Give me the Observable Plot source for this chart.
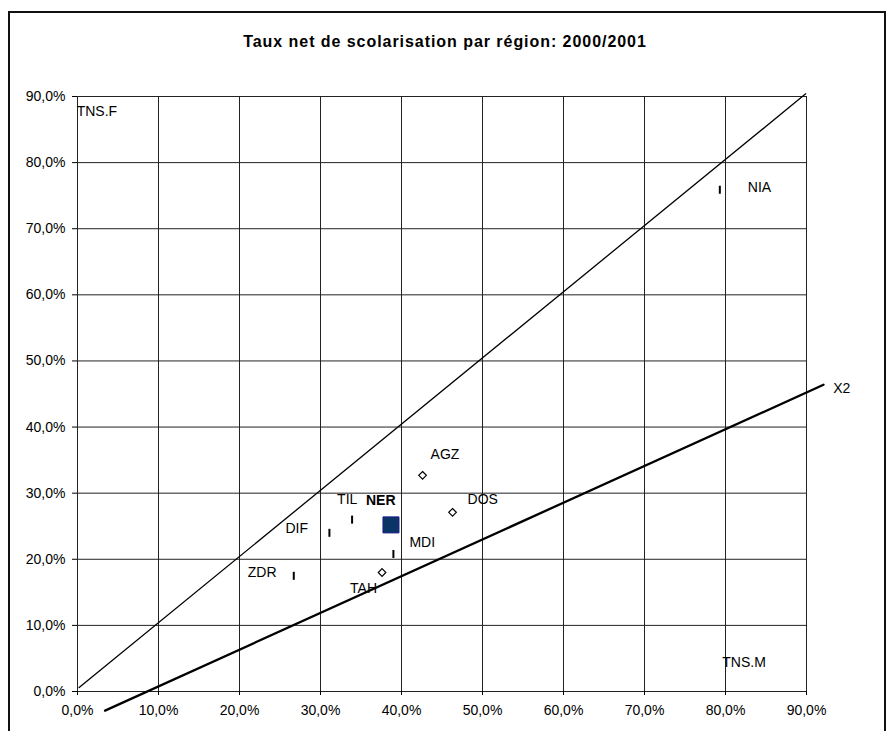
<!DOCTYPE html>
<html>
<head>
<meta charset="utf-8">
<script src="https://cdn.jsdelivr.net/npm/d3@7"></script>
<script src="https://cdn.jsdelivr.net/npm/@observablehq/plot@0.6"></script>
<style>
  html, body { margin: 0; padding: 0; background: #fff; }
  #wrap { position: relative; width: 888px; height: 731px; overflow: hidden; }
  #border { position: absolute; left: 8px; top: 11px; width: 874px; height: 740px; border: 2px solid #111; pointer-events: none; }
  svg { font-family: "Liberation Sans", Arial, sans-serif; }
</style>
</head>
<body>
<div id="wrap"><div id="chart"></div><div id="border"></div></div>
<script>
const title = "Taux net de scolarisation par région: 2000/2001";
const regions = ["NIA", "AGZ", "DOS", "NER", "TIL", "DIF", "MDI", "TAH", "ZDR"];
const tnsM = [0.793, 0.426, 0.463, 0.387, 0.339, 0.311, 0.390, 0.376, 0.267];
const tnsF = [0.759, 0.327, 0.271, 0.252, 0.260, 0.240, 0.208, 0.180, 0.175];
const markerType = ["bar", "diamond", "diamond", "square", "bar", "bar", "bar", "diamond", "bar"];
const tickValues = [0, 0.1, 0.2, 0.3, 0.4, 0.5, 0.6, 0.7, 0.8, 0.9];
// reference lines (endpoints)
const diagX = [0.002, 0.899];
const diagY = [0.006, 0.904];
const x2X = [0.034, 0.921];
const x2Y = [-0.029, 0.464];
// annotations
const annoText = ["TNS.F", "TNS.M", "X2"];
const annoX = [-0.001, 0.796, 0.933];
const annoY = [0.877, 0.0435, 0.459];

// label layout offsets (pixels), same order as regions
const labelDx = [28, 8, 15, -25, -15, -44, 16, -32, -46];
const labelDy = [-2, -21, -13, -24, -20, -4, -11, 16, -3];

const fr = d3.formatLocale({decimal: ",", thousands: " ", grouping: [3], currency: ["", "€"], percent: "%"});
const pct = fr.format(".1%");

const pts = regions.map((r, i) => ({region: r, x: tnsM[i], y: tnsF[i], type: markerType[i], dx: labelDx[i], dy: labelDy[i]}));
const diag = diagX.map((x, i) => ({x, y: diagY[i]}));
const x2 = x2X.map((x, i) => ({x, y: x2Y[i]}));
const annos = annoText.map((t, i) => ({text: t, x: annoX[i], y: annoY[i]}));

const barSymbol = {draw(ctx) { ctx.rect(-1, -4, 2, 8); }};
const diamondSymbol = {draw(ctx) { ctx.moveTo(0, -3.8); ctx.lineTo(3.8, 0); ctx.lineTo(0, 3.8); ctx.lineTo(-3.8, 0); ctx.closePath(); }};
const squareSymbol = {draw(ctx) { ctx.rect(-8, -8, 16, 16); }};

const labelMarks = pts.map(d => Plot.text([d], {
  x: "x", y: "y", text: "region", dx: d.dx, dy: d.dy,
  textAnchor: "start", fontSize: 14, fill: "#000",
  fontWeight: d.region === "NER" ? "bold" : "normal"
}));

const chart = Plot.plot({
  width: 888,
  height: 731,
  marginLeft: 77,
  marginRight: 82,
  marginTop: 96,
  marginBottom: 40,
  style: {fontSize: "14px", fontFamily: "'Liberation Sans', Arial, sans-serif", background: "#fff", overflow: "visible"},
  x: {domain: [0, 0.9]},
  y: {domain: [0, 0.9]},
  marks: [
    Plot.ruleX(tickValues, {stroke: "#222", strokeWidth: 1}),
    Plot.ruleY(tickValues, {stroke: "#222", strokeWidth: 1}),
    Plot.axisX({ticks: tickValues, tickFormat: pct, tickSize: 4, tickPadding: 10, fontSize: 14, stroke: "#000", label: null}),
    Plot.axisY({ticks: tickValues, tickFormat: pct, tickSize: 5, tickPadding: 7, fontSize: 14, stroke: "#000", label: null}),
    Plot.line(diag, {x: "x", y: "y", stroke: "#000", strokeWidth: 1.3}),
    Plot.line(x2, {x: "x", y: "y", stroke: "#000", strokeWidth: 2.3}),
    Plot.dot(pts.filter(d => d.type === "bar"), {x: "x", y: "y", symbol: barSymbol, fill: "#000", stroke: "none"}),
    Plot.dot(pts.filter(d => d.type === "diamond"), {x: "x", y: "y", symbol: diamondSymbol, fill: "#fff", stroke: "#000", strokeWidth: 1.2}),
    Plot.dot(pts.filter(d => d.type === "square"), {x: "x", y: "y", symbol: squareSymbol, fill: "#0a3466", stroke: "#1a1a8a", strokeWidth: 1}),
    ...labelMarks,
    Plot.text(annos, {x: "x", y: "y", text: "text", textAnchor: "start", fontSize: 14, fill: "#000"}),
    Plot.text([title], {frameAnchor: "top", lineAnchor: "middle", dy: -55, dx: 3, fontWeight: "bold", fontSize: 16, fill: "#000"})
  ]
});
d3.select(chart).selectAll("text").filter(function() { return this.textContent === title; }).style("letter-spacing", "0.95px");
document.getElementById("chart").appendChild(chart);
</script>
</body>
</html>
